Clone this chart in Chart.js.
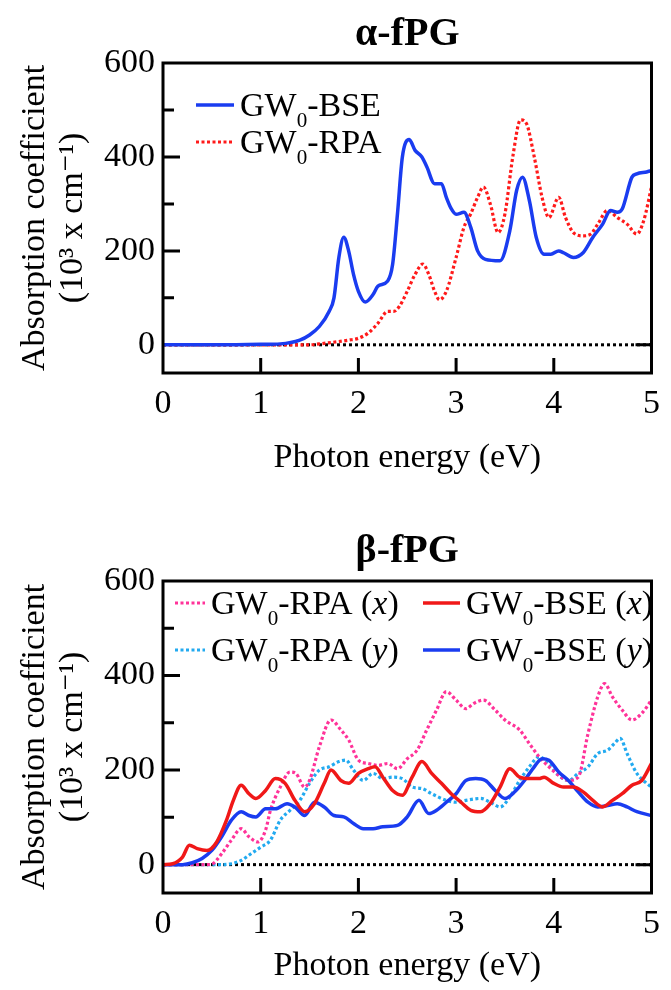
<!DOCTYPE html>
<html>
<head>
<meta charset="utf-8">
<script src="https://cdn.jsdelivr.net/npm/chart.js@4/dist/chart.umd.min.js"></script>
<style>
  body { margin: 0; background: #fff; font-family: 'Liberation Serif', serif; overflow: hidden; }
  .box { position: absolute; left: 0; width: 671px; }
  #topBox { top: 0; height: 500px; }
  #botBox { top: 500px; height: 500px; }
  .warm { position: absolute; left: -999px; top: 0; }
</style>
</head>
<body>
<span class="warm" style="font-family:'Liberation Serif'">fPG</span>
<span class="warm" style="font-family:'Liberation Serif';font-weight:bold">fPG</span>
<span class="warm" style="font-family:'Liberation Serif';font-style:italic">xy</span>
<div class="box" id="topBox"><canvas id="alpha"></canvas></div>
<div class="box" id="botBox"><canvas id="beta"></canvas></div>
<script>
// --- alpha-fPG ---
var alphaBseE = [0, 0.5, 1.0, 1.2, 1.4, 1.5, 1.6, 1.7, 1.75, 1.8, 1.85, 1.9, 1.95, 2.0, 2.07, 2.15, 2.2, 2.3, 2.35, 2.4, 2.45, 2.52, 2.58, 2.65, 2.7, 2.78, 2.85, 2.9, 2.95, 3.0, 3.08, 3.15, 3.22, 3.3, 3.45, 3.55, 3.62, 3.68, 3.75, 3.82, 3.9, 3.97, 4.05, 4.1, 4.2, 4.3, 4.4, 4.5, 4.58, 4.65, 4.7, 4.8, 4.85, 4.95, 5.0];
var alphaBse  = [0, 0, 1, 2, 10, 21, 39, 71, 100, 186, 229, 200, 150, 114, 91, 107, 125, 136, 171, 279, 400, 437, 414, 400, 379, 343, 343, 314, 290, 278, 282, 250, 200, 182, 179, 243, 329, 357, 307, 229, 193, 193, 200, 196, 186, 196, 229, 257, 286, 282, 289, 357, 364, 368, 371];

var alphaRpaE = [0, 1.0, 1.5, 1.6, 1.8, 1.9, 2.0, 2.1, 2.2, 2.3, 2.36, 2.42, 2.5, 2.58, 2.66, 2.72, 2.78, 2.83, 2.9, 3.0, 3.08, 3.15, 3.22, 3.28, 3.35, 3.43, 3.5, 3.58, 3.66, 3.72, 3.8, 3.88, 3.95, 4.05, 4.12, 4.2, 4.3, 4.38, 4.45, 4.55, 4.65, 4.75, 4.85, 4.92, 5.0];
var alphaRpa  = [0, 0, 0, 2, 7, 10, 14, 25, 46, 71, 71, 82, 114, 150, 172, 150, 114, 96, 114, 186, 250, 279, 314, 336, 300, 239, 279, 400, 479, 471, 400, 314, 271, 314, 271, 239, 232, 236, 257, 286, 271, 257, 236, 264, 336];

// --- beta-fPG ---
var betaRpaXE = [0, 0.45, 0.5, 0.6, 0.7, 0.8, 0.88, 0.97, 1.05, 1.1, 1.2, 1.3, 1.36, 1.45, 1.5, 1.6, 1.72, 1.82, 1.9, 2.0, 2.1, 2.2, 2.3, 2.4, 2.5, 2.6, 2.7, 2.8, 2.9, 3.0, 3.1, 3.18, 3.28, 3.4, 3.5, 3.65, 3.75, 3.85, 3.95, 4.05, 4.15, 4.25, 4.35, 4.45, 4.52, 4.6, 4.7, 4.8, 4.9, 5.0];
var betaRpaX  = [0, 0, 1, 23, 52, 76, 59, 48, 73, 115, 164, 196, 193, 164, 178, 249, 306, 285, 264, 221, 214, 210, 214, 203, 224, 242, 285, 327, 366, 348, 330, 341, 348, 327, 306, 285, 256, 228, 207, 189, 178, 185, 277, 355, 383, 355, 327, 306, 320, 348];

var betaRpaYE = [0, 0.6, 0.7, 0.8, 0.9, 1.0, 1.1, 1.2, 1.3, 1.4, 1.5, 1.6, 1.7, 1.8, 1.87, 1.95, 2.05, 2.15, 2.25, 2.35, 2.45, 2.55, 2.65, 2.75, 2.9, 3.0, 3.1, 3.25, 3.35, 3.45, 3.55, 3.65, 3.75, 3.85, 3.95, 4.05, 4.15, 4.25, 4.35, 4.45, 4.55, 4.62, 4.68, 4.75, 4.85, 4.95, 5.0];
var betaRpaY  = [0, 0, 2, 9, 23, 37, 52, 94, 115, 136, 172, 200, 207, 218, 221, 200, 178, 193, 182, 185, 182, 164, 161, 150, 136, 132, 136, 140, 132, 122, 143, 178, 207, 228, 214, 189, 178, 193, 207, 235, 242, 256, 267, 235, 193, 172, 164];

var betaBseXE = [0, 0.1, 0.2, 0.27, 0.35, 0.45, 0.55, 0.65, 0.72, 0.8, 0.88, 0.95, 1.05, 1.15, 1.25, 1.35, 1.45, 1.55, 1.65, 1.72, 1.82, 1.9, 2.0, 2.1, 2.17, 2.25, 2.35, 2.45, 2.55, 2.65, 2.75, 2.85, 2.95, 3.05, 3.15, 3.25, 3.35, 3.45, 3.55, 3.65, 3.75, 3.85, 3.9, 4.0, 4.1, 4.2, 4.3, 4.4, 4.5, 4.6, 4.7, 4.8, 4.9, 5.0];
var betaBseX  = [0, 2, 16, 41, 34, 30, 48, 94, 136, 168, 150, 140, 157, 182, 172, 136, 112, 129, 172, 200, 178, 172, 193, 203, 207, 185, 157, 147, 185, 218, 193, 172, 150, 132, 115, 112, 129, 164, 203, 185, 182, 182, 185, 172, 164, 164, 154, 136, 122, 136, 150, 168, 178, 214];

var betaBseYE = [0, 0.2, 0.3, 0.4, 0.5, 0.6, 0.7, 0.8, 0.88, 0.95, 1.05, 1.15, 1.27, 1.35, 1.45, 1.55, 1.65, 1.75, 1.85, 1.95, 2.05, 2.15, 2.25, 2.4, 2.5, 2.62, 2.72, 2.8, 2.9, 3.0, 3.1, 3.2, 3.3, 3.4, 3.5, 3.6, 3.7, 3.8, 3.88, 3.95, 4.05, 4.15, 4.25, 4.35, 4.45, 4.55, 4.65, 4.75, 4.85, 5.0];
var betaBseY  = [0, 0, 4, 13, 30, 59, 94, 112, 104, 101, 118, 118, 129, 122, 104, 132, 122, 104, 101, 87, 76, 76, 80, 83, 101, 136, 108, 115, 132, 150, 178, 182, 178, 157, 140, 154, 178, 207, 224, 221, 196, 178, 154, 132, 122, 125, 129, 122, 112, 104];

// axes
var zeroLineE = [0, 5];
var zeroLine  = [0, 0];
var xTicks = [0, 1, 2, 3, 4, 5];
var yTicks = [0, 200, 400, 600];
var yMinorTicks = [100, 300, 500];

var serif = '"Liberation Serif", "DejaVu Serif", serif';

function pts(e, v) {
  return e.map(function (x, i) { return { x: x, y: v[i] }; });
}

// label like "GW0-RPA (x)": 0 as subscript, x/y in italic
function drawLabel(ctx, label, x, y, size) {
  var parts = [{ t: 'GW' }, { t: '0', sub: true }];
  var rest = label.slice(3);
  var m = rest.match(/^(.*\()(\w)(\))$/);
  if (m) parts.push({ t: m[1] }, { t: m[2], it: true }, { t: m[3] });
  else parts.push({ t: rest });
  ctx.textBaseline = 'alphabetic';
  ctx.textAlign = 'left';
  ctx.fillStyle = '#000';
  var base = y + size * 0.33;
  parts.forEach(function (p) {
    var s = p.sub ? size * 0.62 : size;
    ctx.font = (p.it ? 'italic ' : '') + s + 'px ' + serif;
    ctx.fillText(p.t, x, p.sub ? base + size * 0.32 : base);
    x += ctx.measureText(p.t).width;
  });
}

var framePlugin = {
  id: 'frame',
  afterDatasetsDraw: function (chart) {
    var ctx = chart.ctx, a = chart.chartArea;
    var xs = chart.scales.x, ys = chart.scales.y;
    ctx.save();
    ctx.strokeStyle = '#000';
    ctx.lineWidth = 3;
    ctx.strokeRect(a.left, a.top, a.right - a.left, a.bottom - a.top);
    ctx.beginPath();
    xTicks.slice(1, -1).forEach(function (v) {
      var p = xs.getPixelForValue(v);
      ctx.moveTo(p, a.bottom); ctx.lineTo(p, a.bottom - 15);
    });
    yTicks.slice(1, -1).forEach(function (v) {
      var p = ys.getPixelForValue(v);
      ctx.moveTo(a.left, p); ctx.lineTo(a.left + 17, p);
    });
    yMinorTicks.forEach(function (v) {
      var p = ys.getPixelForValue(v);
      ctx.moveTo(a.left, p); ctx.lineTo(a.left + 11, p);
    });
    var z = ys.getPixelForValue(0);
    ctx.moveTo(a.right, z); ctx.lineTo(a.right - 16, z);
    ctx.stroke();
    ctx.restore();
  }
};

var legendPlugin = {
  id: 'richLegend',
  afterDraw: function (chart, args, opts) {
    var ctx = chart.ctx, a = chart.chartArea;
    ctx.save();
    opts.items.forEach(function (it) {
      var ds = chart.data.datasets[it.index];
      var y = a.top + it.dy;
      ctx.strokeStyle = ds.borderColor;
      ctx.lineWidth = ds.borderWidth;
      ctx.setLineDash(ds.borderDash || []);
      ctx.beginPath();
      ctx.moveTo(a.left + it.dx, y);
      ctx.lineTo(a.left + it.dx + it.len, y);
      ctx.stroke();
      ctx.setLineDash([]);
      drawLabel(ctx, ds.label, a.left + it.dx + it.len + 6, y, 34);
    });
    ctx.restore();
  }
};

function zeroSet() {
  return {
    label: 'zero', data: pts(zeroLineE, zeroLine), borderColor: '#000',
    borderWidth: 3, borderDash: [3, 3], pointRadius: 0, order: 10
  };
}

function line(label, e, v, color, dotted, order) {
  return {
    label: label, data: pts(e, v), borderColor: color, borderWidth: dotted ? 3.2 : 3.5,
    borderDash: dotted ? [3, 2.5] : [], pointRadius: 0,
    cubicInterpolationMode: 'monotone', order: order
  };
}

function makeOptions(titleText, titlePad, xHeight, xTitlePad, legendItems) {
  return {
    responsive: true,
    maintainAspectRatio: false,
    animation: false,
    layout: { padding: { left: 0, right: 9, top: 0, bottom: 0 } },
    plugins: {
      legend: { display: false },
      tooltip: { enabled: false },
      title: {
        display: true, text: titleText, color: '#000', fullSize: false,
        font: { family: serif, size: 40, weight: 'bold', lineHeight: 1.1 },
        padding: titlePad
      },
      richLegend: { items: legendItems }
    },
    scales: {
      x: {
        type: 'linear', min: 0, max: 5,
        afterBuildTicks: function (s) { s.ticks = xTicks.map(function (v) { return { value: v }; }); },
        afterFit: function (s) { s.height = xHeight; },
        grid: { display: false, drawTicks: false },
        border: { display: false },
        ticks: { color: '#000', padding: 11, font: { family: serif, size: 34 }, maxRotation: 0 },
        title: {
          display: true, text: 'Photon energy (eV)', color: '#000',
          font: { family: serif, size: 34, lineHeight: 1.2 },
          padding: { top: 0, bottom: xTitlePad }
        }
      },
      y: {
        min: -60, max: 600,
        afterBuildTicks: function (s) { s.ticks = yTicks.map(function (v) { return { value: v }; }); },
        afterFit: function (s) { s.width = 163; },
        grid: { display: false, drawTicks: false },
        border: { display: false },
        ticks: { color: '#000', padding: 8, font: { family: serif, size: 34 } },
        title: {
          display: true, text: ['Absorption coefficient', '(10³ x cm⁻¹)'], color: '#000',
          font: { family: serif, size: 34, lineHeight: 1.12 },
          padding: { top: 16, bottom: 0 }
        }
      }
    }
  };
}

function build() {
  new Chart(document.getElementById('alpha').getContext('2d'), {
    type: 'line',
    data: {
      datasets: [
        line('GW0-BSE', alphaBseE, alphaBse, '#1a3cf0', false, 1),
        line('GW0-RPA', alphaRpaE, alphaRpa, '#ff1a1a', true, 2),
        zeroSet()
      ]
    },
    options: makeOptions('α-fPG', { top: 13, bottom: 6 }, 127, 22, [
      { index: 0, dx: 33, dy: 42, len: 38 },
      { index: 1, dx: 33, dy: 79, len: 38 }
    ]),
    plugins: [framePlugin, legendPlugin]
  });

  new Chart(document.getElementById('beta').getContext('2d'), {
    type: 'line',
    data: {
      datasets: [
        line('GW0-RPA (x)', betaRpaXE, betaRpaX, '#ff3399', true, 3),
        line('GW0-BSE (x)', betaBseXE, betaBseX, '#f01818', false, 1),
        line('GW0-RPA (y)', betaRpaYE, betaRpaY, '#22aaf0', true, 4),
        line('GW0-BSE (y)', betaBseYE, betaBseY, '#1a3cf0', false, 2),
        zeroSet()
      ]
    },
    options: makeOptions('β-fPG', { top: 30, bottom: 7 }, 107, 14, [
      { index: 0, dx: 12, dy: 22, len: 30 },
      { index: 1, dx: 260, dy: 22, len: 37 },
      { index: 2, dx: 12, dy: 69, len: 30 },
      { index: 3, dx: 260, dy: 69, len: 37 }
    ]),
    plugins: [framePlugin, legendPlugin]
  });
}

Promise.all([
  document.fonts.load('34px "Liberation Serif"'),
  document.fonts.load('bold 40px "Liberation Serif"'),
  document.fonts.load('italic 34px "Liberation Serif"')
]).then(build, build);
</script>
</body>
</html>
